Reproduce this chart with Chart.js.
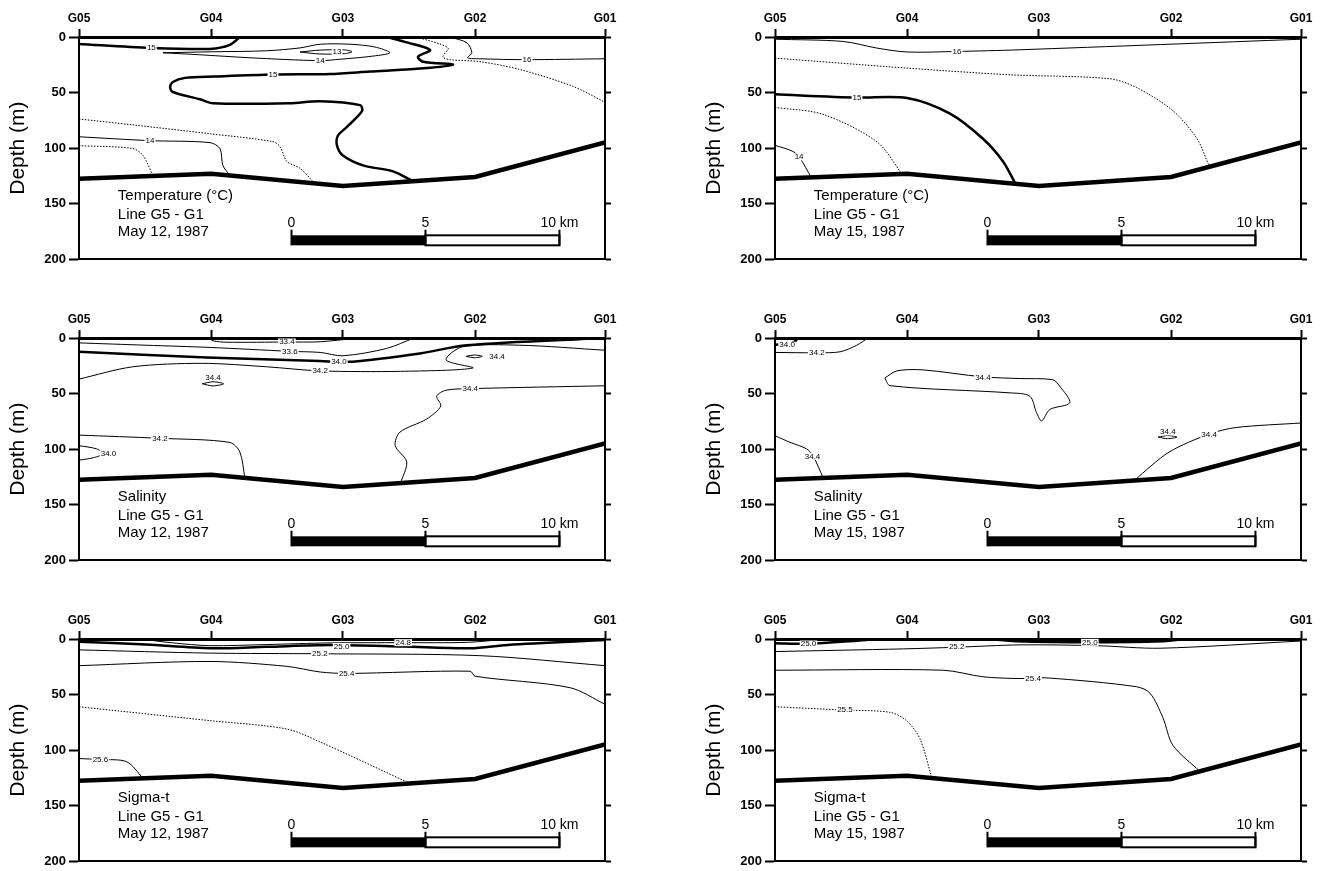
<!DOCTYPE html>
<html>
<head>
<meta charset="utf-8">
<script src="https://cdn.jsdelivr.net/npm/chart.js@4.4.1/dist/chart.umd.min.js"></script>
<style>
  html, body { margin: 0; padding: 0; background: #fff; overflow: hidden; }
  body { width: 1322px; height: 871px; position: relative; }
  canvas { position: absolute; }
</style>
</head>
<body>
<canvas id="tMay12" width="625" height="270" style="left:0px;top:0px"></canvas>
<canvas id="tMay15" width="625" height="270" style="left:696px;top:0px"></canvas>
<canvas id="sMay12" width="625" height="270" style="left:0px;top:301px"></canvas>
<canvas id="sMay15" width="625" height="270" style="left:696px;top:301px"></canvas>
<canvas id="gMay12" width="625" height="270" style="left:0px;top:602px"></canvas>
<canvas id="gMay15" width="625" height="270" style="left:696px;top:602px"></canvas>
<script>
// Stations along the section (km from G05) and bottom depth (m)
const STATION_NAMES = ['G05', 'G04', 'G03', 'G02', 'G01'];
const STATION_KM = [0, 4.93, 9.85, 14.78, 19.63];
const BOTTOM_DEPTH = [127.5, 123, 134, 126, 95];
const DEPTH_TICKS = [0, 50, 100, 150, 200];

// --- Temperature, May 12 (km, m) ---
const t12_15a = [[0,6.2],[2.65,9.8],[4.89,10.7],[5.63,7.1],[6.01,0]];
const t12_15b = [[11.49,0],[12.16,4.4],[13.10,11.6],[12.65,17.8],[12.84,22.2],[13.96,24.9],[12.72,28.4],[10.86,31.1],[9.37,33.3],[7.24,33.8],[5.07,35.6],[3.96,36.8],[3.5,40.5],[3.4,45.3],[3.5,49.5],[4.51,56],[5.0,59.6],[7.87,59.6],[8.99,57.8],[10.49,61.3],[10.56,66.7],[10.0,80.9],[9.66,88.9],[9.63,97.8],[9.85,106.7],[10.6,115.6],[11.72,120.9],[12.46,129.8]];
const t12_14a = [[3.13,14.2],[5.0,13.3],[7.0,12.4],[8.25,9.8],[9.0,6.5],[10.11,6.5],[11.04,9.0],[11.6,14.2],[10.86,17.5],[9.74,20.0],[9.0,21.3],[6.38,18.7],[4.51,16],[3.13,14.2]];
const t12_13 = [[8.25,13.5],[9.0,11.8],[9.9,11.6],[10.19,13.3],[9.9,15],[9.0,15.3],[8.25,13.5]];
const t12_dotA = [[12.61,0],[13.77,9.8],[13.58,17.8],[13.84,20.4],[14.96,22.2],[16.46,29.3],[18.43,44.4],[19.63,58.7]];
const t12_16 = [[13.84,0],[14.48,5.3],[14.66,14.2],[14.51,18.7],[14.96,19.6],[16.64,20.4],[19.63,19.6]];
const t12_dotB = [[0,73.8],[2.01,79.1],[4.89,87.1],[7.24,94.2],[7.5,98.7],[7.76,112],[8.25,118.2],[8.73,130]];
const t12_14b = [[0,89.8],[2.65,93.3],[4.89,95.1],[5.26,100.4],[5.37,115.6],[5.63,124.6]];
const t12_dotC = [[0,97.8],[2.01,100.4],[2.39,106.7],[2.76,125]];
const t12_labels = [['15',2.7,9.8],['15',7.24,33.8],['14',2.65,93.3],['14',9.0,21.3],['13',9.63,13.3],['16',16.72,20.4]];

// --- Temperature, May 15 ---
const t15_16 = [[0,2],[2.54,4],[3.81,10],[4.93,13.5],[6.79,13],[9.14,11.5],[19.63,2]];
const t15_dotA = [[0,19],[4.93,28],[8.77,34],[12.5,37.6],[13.5,45.6],[14.85,66.4],[15.75,91.6],[16.2,116]];
const t15_15 = [[0,51.6],[3.06,54.5],[4.93,55],[6.53,69],[7.76,91.6],[8.51,112],[8.96,131.5]];
const t15_dotB = [[0,63.4],[1.79,69.6],[3.81,94.5],[4.74,123.5]];
const t15_14 = [[0,97.5],[0.67,103],[0.93,109],[1.35,126.3]];
const t15_labels = [['16',6.79,13],['15',3.06,54.5],['14',0.9,108]];

// --- Salinity, May 12 ---
const s12_334 = [[4.85,0],[5.0,2.5],[5.5,3.8],[7.76,3.6],[9.0,3.4],[10.4,0]];
const s12_336 = [[0,4.4],[2.5,6.5],[4.9,8.5],[7.87,12],[9.0,13],[9.85,16],[11.48,9.4],[12.5,0]];
const s12_340 = [[0,12.4],[4.76,17.5],[8.99,20.7],[10.2,21.3],[12.72,13.9],[14.47,6.5],[19.63,0]];
const s12_342a = [[0,37],[2.01,25.9],[4.6,22.8],[7.0,25.9],[8.99,29.6],[12,30],[14.7,27],[13.7,19.8],[14.3,8],[16.45,6.5],[19.63,11]];
const s12_344e1 = [[4.6,41.2],[5.0,39.4],[5.4,41.2],[5.0,43.1],[4.6,41.2]];
const s12_344e2 = [[14.45,16.5],[14.75,15.3],[15.05,16.5],[14.75,17.8],[14.45,16.5]];
const s12_344 = [[19.63,43],[14.6,45.6],[13.7,47],[13.35,52.4],[13.5,61.3],[12.97,73],[11.98,84.7],[11.8,96.9],[12.23,111.5],[12.0,130.5]];
const s12_342b = [[0,87.4],[3.02,90.3],[5.63,94],[6.0,102.5],[6.19,125.8]];
const s12_340b = [[0,96.9],[0.66,99.8],[0.9,104.3],[0.53,107.8],[0,110]];
const s12_labels = [['33.4',7.76,3.6],['33.6',7.87,12.3],['34.0',9.7,21],['34.2',9.0,29.6],['34.4',5.0,35.5],['34.4',15.6,16.6],['34.4',14.6,45.6],['34.2',3.02,90.3],['34.0',1.1,104.3]];

// --- Salinity, May 15 ---
const s15_340 = [[0,6],[0.5,5.5],[0.75,3],[0.85,0]];
const s15_342 = [[0,13],[1.56,13.3],[2.43,12.4],[3.05,6.5],[3.47,0]];
const s15_344a = [[4.1,36],[4.55,29.6],[5.52,28.7],[7.76,35],[9.14,36.5],[10.37,37.6],[10.63,43.5],[11.0,58.3],[10.26,64.3],[9.95,74.6],[9.76,67.2],[9.51,52.4],[8.77,49.4],[4.29,42.9],[4.1,36]];
const s15_344e = [[14.3,89.2],[14.65,87.8],[15.0,89.2],[14.65,90.6],[14.3,89.2]];
const s15_344b = [[19.63,76.5],[17.2,80.6],[16.2,86.5],[14.7,102.8],[13.4,128.3]];
const s15_344c = [[0,88],[0.56,93.9],[1.18,99.8],[1.42,106],[1.8,126]];
const s15_labels = [['34.0',0.45,6.5],['34.2',1.56,13.3],['34.4',7.76,35.5],['34.4',14.66,84.5],['34.4',16.2,86.8],['34.4',1.4,106.5]];

// --- Sigma-t, May 12 ---
const g12_248 = [[2.3,0],[3.5,3.5],[4.89,6],[7,5],[9.37,3.5],[12.1,3.3],[14.5,3],[16,0]];
const g12_250 = [[0,2.4],[2.5,5],[4.89,8.3],[7,7],[9.37,5.5],[12.1,6.8],[14.6,8.3],[16.0,5.3],[19.63,0.9]];
const g12_252 = [[0,9.8],[4.89,12.7],[8.99,13.3],[14.96,15],[19.63,24]];
const g12_254 = [[0,24],[4.89,20.2],[7.75,24.6],[9.0,29.7],[9.99,31],[14.6,29],[14.78,33.5],[18.32,43.8],[19.63,58.7]];
const g12_255 = [[0,61],[4.89,73.5],[7.75,81],[9.0,92.7],[12.35,130]];
const g12_256 = [[0,107.6],[0.8,108.5],[1.78,110.5],[2.39,125.3]];
const g12_labels = [['25.0',9.8,6.8],['24.8',12.1,3.3],['25.2',8.99,13.3],['25.4',9.99,31],['25.6',0.8,108.5]];

// --- Sigma-t, May 15 ---
const g15_250a = [[0,3.8],[1.25,4.3],[3.05,1.5],[3.8,0]];
const g15_250b = [[8.0,0],[9.0,2],[11.75,3],[14.5,2],[15.3,0]];
const g15_252 = [[0,11.3],[4.79,8.9],[6.78,7.4],[9.14,5.3],[12,6],[14.37,8.3],[19.63,1.8]];
const g15_254 = [[0,28.1],[6.28,28.1],[7.76,34],[9.14,35.6],[10.14,35],[13.5,43],[14.0,48.9],[14.48,71],[14.85,95.7],[15.85,119]];
const g15_255 = [[0,61],[2.61,64],[4.29,66],[4.91,73.5],[5.41,89.8],[5.85,125]];
const g15_labels = [['25.0',1.25,4.5],['25.0',11.75,3],['25.2',6.78,7.4],['25.4',9.63,35.6],['25.5',2.61,64]];

// caption / scale bar placement (data units)
const CAPTION_KM = 1.45;
const CAPTION_DEPTHS = [143, 160, 175.5];
const SCALE_START_KM = 7.93;
const SCALE_MARKS = [0, 5, 10];

const FONT = 'Arial, "Liberation Sans", sans-serif';

const decor = {
  id: 'decor',
  afterDatasetsDraw(chart, args, opts) {
    const { ctx } = chart;
    const x = chart.scales.x, y = chart.scales.y;
    ctx.save();
    // contour labels
    ctx.font = '8px ' + FONT;
    ctx.textAlign = 'center';
    ctx.textBaseline = 'middle';
    opts.labels.forEach(([t, km, d]) => {
      const px = x.getPixelForValue(km), py = y.getPixelForValue(d);
      const w = ctx.measureText(t).width;
      ctx.fillStyle = '#fff';
      ctx.fillRect(px - w / 2 - 1, py - 3.5, w + 2, 7);
      ctx.fillStyle = '#000';
      ctx.fillText(t, px, py);
    });
    // caption
    ctx.font = '15px ' + FONT;
    ctx.textAlign = 'left';
    opts.caption.forEach((line, i) => {
      ctx.fillText(line, x.getPixelForValue(CAPTION_KM), y.getPixelForValue(CAPTION_DEPTHS[i]));
    });
    // scale bar
    const x0 = x.getPixelForValue(SCALE_START_KM);
    const x5 = x.getPixelForValue(SCALE_START_KM + SCALE_MARKS[1]);
    const x10 = x.getPixelForValue(SCALE_START_KM + SCALE_MARKS[2]);
    const yt = y.getPixelForValue(178.5), yb = y.getPixelForValue(187.5);
    ctx.fillStyle = '#000';
    ctx.fillRect(x0, yt, x5 - x0, yb - yt);
    ctx.strokeStyle = '#000';
    ctx.lineWidth = 2;
    ctx.strokeRect(x5, yt, x10 - x5, yb - yt);
    const ytick = y.getPixelForValue(173.5);
    [x0, x5, x10].forEach(px => {
      ctx.beginPath(); ctx.moveTo(px, ytick); ctx.lineTo(px, yb); ctx.stroke();
    });
    ctx.font = '14px ' + FONT;
    ctx.textAlign = 'center';
    ctx.textBaseline = 'alphabetic';
    const ylab = y.getPixelForValue(171);
    ctx.fillText(String(SCALE_MARKS[0]), x0, ylab);
    ctx.fillText(String(SCALE_MARKS[1]), x5, ylab);
    ctx.fillText(SCALE_MARKS[2] + ' km', x10, ylab);
    ctx.restore();
  }
};

const STYLE = {
  thin: { borderWidth: 1, borderDash: [] },
  thick: { borderWidth: 2.5, borderDash: [] },
  dot: { borderWidth: 1, borderDash: [1.5, 1.5] }
};

function makePanel(id, contours, labels, caption) {
  const bottom = STATION_KM.map((km, i) => ({ x: km, y: BOTTOM_DEPTH[i] }));
  const datasets = [{
    data: bottom, showLine: true, pointRadius: 0, borderColor: '#000',
    borderWidth: 4.5, tension: 0, fill: false
  }];
  contours.forEach(([pts, style]) => {
    datasets.push({
      data: pts.map(p => ({ x: p[0], y: p[1] })),
      showLine: true, pointRadius: 0, borderColor: '#000',
      borderWidth: STYLE[style].borderWidth, borderDash: STYLE[style].borderDash,
      tension: 0.3, fill: false
    });
  });

  const xRange = { min: STATION_KM[0], max: STATION_KM[STATION_KM.length - 1] };
  return new Chart(document.getElementById(id), {
    type: 'scatter',
    data: { datasets },
    plugins: [decor],
    options: {
      responsive: false,
      animation: false,
      devicePixelRatio: 1,
      layout: { padding: 0 },
      plugins: { legend: { display: false }, tooltip: { enabled: false }, decor: { labels, caption } },
      scales: {
        x: {
          type: 'linear', position: 'top', ...xRange,
          afterBuildTicks: ax => { ax.ticks = STATION_KM.map(v => ({ value: v })); },
          afterFit: s => { s.height = 37; },
          ticks: { autoSkip: false, maxRotation: 0, padding: 3, color: '#000',
            font: { family: FONT, size: 12, weight: 'bold' },
            callback: (v, i) => STATION_NAMES[i] },
          grid: { drawOnChartArea: false, tickLength: 8, tickWidth: 2, color: '#000' },
          border: { width: 3, color: '#000' }
        },
        xb: {
          type: 'linear', position: 'bottom', ...xRange,
          afterFit: s => { s.height = 8; },
          ticks: { display: false },
          grid: { display: false },
          border: { width: 2, color: '#000' }
        },
        y: {
          type: 'linear', position: 'left', reverse: true, min: 0, max: 200,
          afterBuildTicks: ax => { ax.ticks = DEPTH_TICKS.map(v => ({ value: v })); },
          afterFit: s => { s.width = 79; },
          ticks: { padding: 3, color: '#000', font: { family: FONT, size: 13, weight: 'bold' } },
          grid: { drawOnChartArea: false, tickLength: 10, tickWidth: 2, color: '#000' },
          border: { width: 2, color: '#000' },
          title: { display: true, text: 'Depth (m)', color: '#000',
            font: { family: FONT, size: 21 }, padding: { top: 6, bottom: 0 } }
        },
        yr: {
          type: 'linear', position: 'right', reverse: true, min: 0, max: 200,
          afterBuildTicks: ax => { ax.ticks = DEPTH_TICKS.map(v => ({ value: v })); },
          afterFit: s => { s.width = 20; },
          ticks: { display: false },
          grid: { drawOnChartArea: false, tickLength: 6, tickWidth: 2, color: '#000' },
          border: { width: 2, color: '#000' }
        }
      }
    }
  });
}

makePanel('tMay12', [
  [t12_15a, 'thick'], [t12_15b, 'thick'], [t12_14a, 'thin'], [t12_13, 'thin'],
  [t12_dotA, 'dot'], [t12_16, 'thin'], [t12_dotB, 'dot'], [t12_14b, 'thin'], [t12_dotC, 'dot']
], t12_labels, ['Temperature (°C)', 'Line G5 - G1', 'May 12, 1987']);

makePanel('tMay15', [
  [t15_16, 'thin'], [t15_dotA, 'dot'], [t15_15, 'thick'], [t15_dotB, 'dot'], [t15_14, 'thin']
], t15_labels, ['Temperature (°C)', 'Line G5 - G1', 'May 15, 1987']);

makePanel('sMay12', [
  [s12_334, 'thin'], [s12_336, 'thin'], [s12_340, 'thick'], [s12_342a, 'thin'],
  [s12_344e1, 'thin'], [s12_344e2, 'thin'], [s12_344, 'thin'], [s12_342b, 'thin'], [s12_340b, 'thin']
], s12_labels, ['Salinity', 'Line G5 - G1', 'May 12, 1987']);

makePanel('sMay15', [
  [s15_340, 'thick'], [s15_342, 'thin'], [s15_344a, 'thin'], [s15_344e, 'thin'],
  [s15_344b, 'thin'], [s15_344c, 'thin']
], s15_labels, ['Salinity', 'Line G5 - G1', 'May 15, 1987']);

makePanel('gMay12', [
  [g12_248, 'thin'], [g12_250, 'thick'], [g12_252, 'thin'], [g12_254, 'thin'],
  [g12_255, 'dot'], [g12_256, 'thin']
], g12_labels, ['Sigma-t', 'Line G5 - G1', 'May 12, 1987']);

makePanel('gMay15', [
  [g15_250a, 'thick'], [g15_250b, 'thick'], [g15_252, 'thin'], [g15_254, 'thin'],
  [g15_255, 'dot']
], g15_labels, ['Sigma-t', 'Line G5 - G1', 'May 15, 1987']);
</script>
</body>
</html>
